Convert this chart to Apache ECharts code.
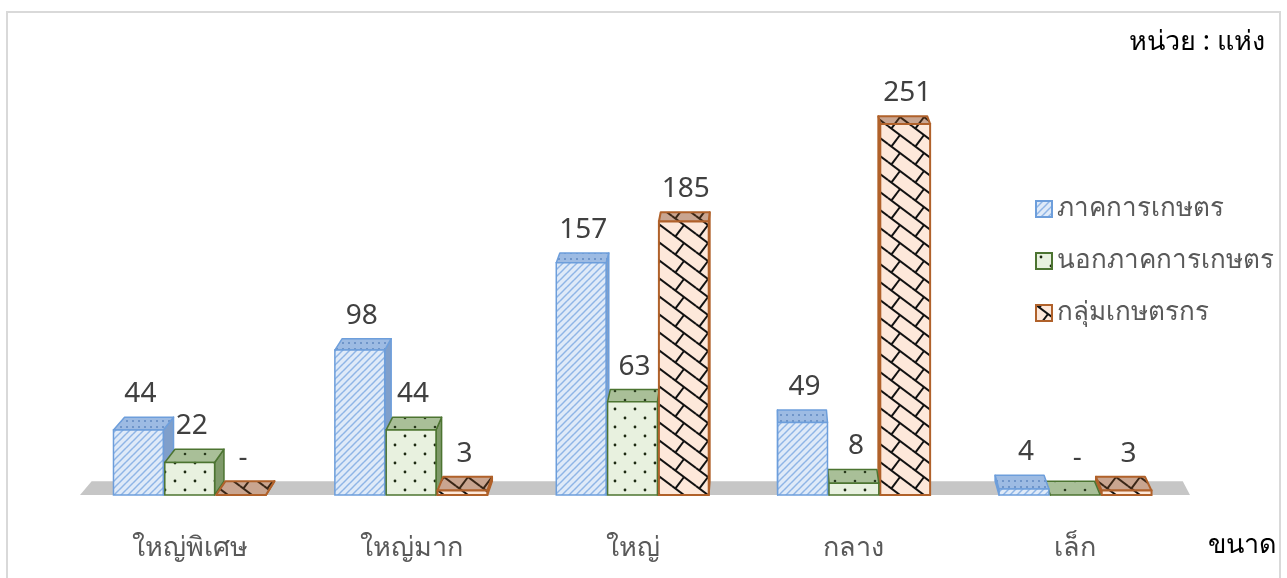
<!DOCTYPE html>
<html>
<head>
<meta charset="utf-8">
<script src="https://cdn.jsdelivr.net/npm/echarts@6/dist/echarts.min.js"></script>
<style>
  html, body { margin:0; padding:0; background:#fff; }
  #chart { position:absolute; left:0; top:0; width:1287px; height:578px; }
  #frame { position:absolute; left:6px; top:11px; width:1275px; height:620px; border:2px solid #d9d9d9; box-sizing:border-box; pointer-events:none; }
</style>
</head>
<body>
<div id="frame"></div>
<div id="chart"></div>
<script>
// ---- data ----
const categories = ['ใหญ่พิเศษ', 'ใหญ่มาก', 'ใหญ่', 'กลาง', 'เล็ก'];
const seriesNames = ['ภาคการเกษตร', 'นอกภาคการเกษตร', 'กลุ่มเกษตรกร'];
const agriculture = [44, 98, 157, 49, 4];
const nonAgriculture = [22, 44, 63, 8, 0];
const farmerGroups = [0, 3, 185, 251, 3];
const unitLabel = 'หน่วย : แห่ง';
const axisTitle = 'ขนาด';

// ---- patterns ----
function tile(w, h, bg, draw) {
  const c = document.createElement('canvas');
  c.width = w; c.height = h;
  const g = c.getContext('2d');
  g.fillStyle = bg; g.fillRect(0, 0, w, h);
  for (const dx of [-w, 0, w]) for (const dy of [-h, 0, h]) {
    g.save(); g.translate(dx, dy); draw(g, w, h); g.restore();
  }
  return c;
}
const blueTile = tile(7, 7, '#dfeaf8', (g, w, h) => {
  g.strokeStyle = '#8fb5e6'; g.lineWidth = 1.5;
  g.beginPath(); g.moveTo(0, h); g.lineTo(w, 0); g.stroke();
});
const blueTopTile = tile(6, 6, '#9dbbe3', (g, w, h) => {
  g.fillStyle = '#6f95c9'; g.fillRect(0, 0, 2, 2);
});
const greenTile = tile(20, 18, '#e8f1df', (g, w, h) => {
  g.fillStyle = '#1d2a12';
  g.beginPath(); g.arc(5, 4, 1.4, 0, Math.PI * 2); g.fill();
  g.beginPath(); g.arc(15, 13, 1.4, 0, Math.PI * 2); g.fill();
});
const greenTopTile = tile(20, 18, '#a9bf98', (g, w, h) => {
  g.fillStyle = '#2a3a1e';
  g.beginPath(); g.arc(5, 4, 1.3, 0, Math.PI * 2); g.fill();
  g.beginPath(); g.arc(15, 13, 1.3, 0, Math.PI * 2); g.fill();
});
function brickDraw(col) {
  return (g, w, h) => {
    g.strokeStyle = col; g.lineWidth = 2;
    g.beginPath(); g.moveTo(0, 0); g.lineTo(w, h); g.stroke();
    g.beginPath(); g.moveTo(12, 9); g.lineTo(12 - 8.4, 9 + 11.2); g.stroke();
  };
}
const brownTile = tile(24, 18, '#fde8da', brickDraw('#111'));
const brownTopTile = tile(24, 18, '#c9a590', brickDraw('#3a2616'));

const pat = c => ({ image: c, repeat: 'repeat' });
const styles = [
  { front: pat(blueTile), top: pat(blueTopTile), side: '#7f9fcb', border: '#6d9edb', bw: 1.5 },
  { front: pat(greenTile), top: pat(greenTopTile), side: '#7f9a6a', border: '#4c7431', bw: 1.5 },
  { front: pat(brownTile), top: pat(brownTopTile), side: '#8a4a25', border: '#b0612a', bw: 2 }
];
const seriesData = [agriculture, nonAgriculture, farmerGroups];

// ---- perspective (pure styling) ----
const VPX = 765, VPY = -320, DEPTH = 0.017;
const back = p => [p[0] + (VPX - p[0]) * DEPTH, p[1] + (VPY - p[1]) * DEPTH];

function makeRender(si) {
  return function (params, api) {
    const ci = api.value(0), val = api.value(1);
    const base = api.coord([ci, 0]);
    const topP = api.coord([ci, val]);
    const band = api.size([1, 0])[0];
    const bw = band * 0.225, gap = 1.5;
    const x0 = base[0] - 1.5 * bw - gap + si * (bw + gap);
    const x1 = x0 + bw;
    const yb = base[1], yt = topP[1];
    const st = styles[si];
    const leftOfVp = base[0] < VPX;
    const z = leftOfVp ? 10 + si : 10 + (2 - si);
    const children = [];
    const cs = params.coordSys;
    if (si === 0 && params.dataIndex === 0) {
      const fl = [cs.x + 1, yb], fr = [cs.x + cs.width + 4, yb];
      children.push({
        type: 'polygon', z2: 0,
        shape: { points: [fl, fr, back(fr), back(fl)] },
        style: { fill: '#c6c6c6', stroke: null }
      });
    }
    const ftl = [x0, yt], ftr = [x1, yt], fbl = [x0, yb], fbr = [x1, yb];
    if (leftOfVp) {
      children.push({ type: 'polygon', z2: z, shape: { points: [ftr, back(ftr), back(fbr), fbr] },
        style: { fill: st.side, stroke: st.border, lineWidth: st.bw, lineJoin: 'round' } });
    } else {
      children.push({ type: 'polygon', z2: z, shape: { points: [ftl, back(ftl), back(fbl), fbl] },
        style: { fill: st.side, stroke: st.border, lineWidth: st.bw, lineJoin: 'round' } });
    }
    children.push({ type: 'polygon', z2: z, shape: { points: [ftl, ftr, back(ftr), back(ftl)] },
      style: { fill: st.top, stroke: st.border, lineWidth: st.bw, lineJoin: 'round' } });
    if (yb - yt > 0.5) {
      children.push({ type: 'rect', z2: z, shape: { x: x0, y: yt, width: bw, height: yb - yt },
        style: { fill: st.front, stroke: st.border, lineWidth: st.bw } });
    }
    const bt = back(ftl);
    children.push({ type: 'text', z2: 100,
      style: { text: val === 0 ? '-' : String(val), x: x0 + bw / 2 + 2, y: bt[1] - 23,
        fill: '#404040', font: '28px "Noto Sans", "Open Sans", sans-serif', align: 'center', verticalAlign: 'middle' } });
    return { type: 'group', children };
  };
}

const chart = echarts.init(document.getElementById('chart'), null, { renderer: 'canvas' });
const option = {
  animation: false,
  grid: { left: 79, right: 101, top: 81, bottom: 83 },
  xAxis: {
    type: 'category', data: categories,
    axisLine: { show: false }, axisTick: { show: false },
    axisLabel: { color: '#595959', fontSize: 27, margin: 40, fontFamily: '"Noto Sans", sans-serif' }
  },
  yAxis: { type: 'value', min: 0, max: 280, show: false },
  legend: {
    orient: 'vertical', left: 1030, top: 191, itemWidth: 16, itemHeight: 16, itemGap: 26,
    icon: 'rect',
    textStyle: { color: '#595959', fontSize: 26, fontFamily: '"Noto Sans", sans-serif' },
    data: seriesNames
  },
  graphic: [
    { type: 'text', right: 22, top: 29, style: { text: unitLabel, fill: '#000', font: '27px "Noto Sans", sans-serif' } },
    { type: 'text', right: 10, top: 532, style: { text: axisTitle, fill: '#000', font: '27px "Noto Sans", sans-serif' } }
  ],
  series: seriesData.map((arr, si) => ({
    type: 'custom', name: seriesNames[si],
    itemStyle: { color: styles[si].front, borderColor: styles[si].border, borderWidth: 1.5 },
    renderItem: makeRender(si),
    encode: { x: 0, y: 1 },
    data: arr.map((v, i) => [i, v])
  }))
};
chart.setOption(option);
</script>
</body>
</html>
